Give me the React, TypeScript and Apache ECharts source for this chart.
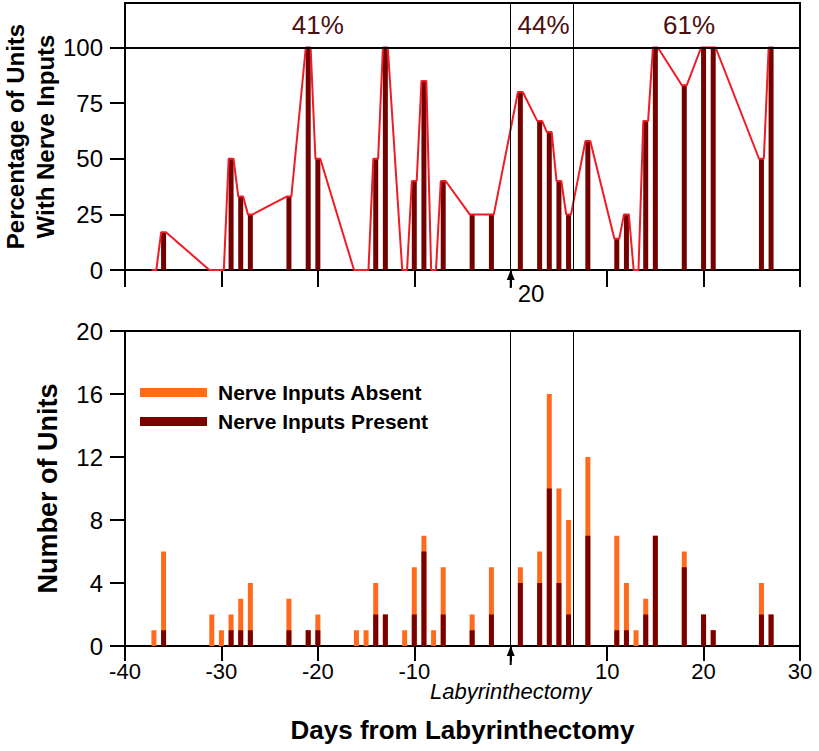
import React, { useEffect, useRef } from "react";
import * as echarts from "echarts";

// Days from labyrinthectomy for each recorded day
const days = [-37, -36, -31, -30, -29, -28, -27, -23, -21, -20, -16, -15, -14, -13, -11, -10, -9, -8, -7, -4, -2, 1, 3, 4, 5, 6, 8, 11, 12, 13, 14, 15, 18, 20, 21, 26, 27];
// Bottom panel: numbers of units
const present = [0, 1, 0, 0, 1, 1, 1, 1, 1, 1, 0, 0, 2, 2, 0, 2, 6, 0, 2, 1, 2, 4, 4, 10, 4, 2, 7, 1, 1, 0, 2, 7, 5, 2, 1, 2, 2];
const absent = [1, 5, 2, 1, 1, 2, 3, 2, 0, 1, 1, 1, 2, 0, 1, 3, 1, 1, 3, 1, 3, 1, 2, 6, 6, 6, 5, 6, 3, 1, 1, 0, 1, 0, 0, 2, 0];
// Top panel: percentage of units with nerve inputs (as drawn)
const percent = [0, 17, 0, 0, 50, 33, 25, 33, 100, 50, 0, 0, 50, 100, 0, 40, 85, 0, 40, 25, 25, 80, 67, 62, 40, 25, 58, 14, 25, 0, 67, 100, 83, 100, 100, 50, 100];
// Period summaries
const periodLabels = ["41%", "44%", "61%"];
const periodCenters = [-20, 3.4, 18.5];
const periodDividers = [0, 6.5];
const topTicks = [0, 25, 50, 75, 100];

const FONT = "'Liberation Sans', Arial, Helvetica, sans-serif";
const HALF = 0.25; // half width of the flat top of each step in the line

export default function App() {
  const ref = useRef<HTMLDivElement>(null);
  useEffect(() => {
    document.body.style.margin = "0";
    if (!ref.current) return;
    const chart = echarts.init(ref.current, null, { renderer: "svg" });

    const linePts: number[][] = [];
    days.forEach((d, i) => {
      linePts.push([d - HALF, percent[i]]);
      linePts.push([d + HALF, percent[i]]);
    });

    const axisLine = { show: true, onZero: false, lineStyle: { color: "#000", width: 2 } };
    const xCommon = {
      type: "value",
      min: -40,
      max: 30,
      interval: 10,
      axisLine,
      splitLine: { show: false },
    };

    const option: any = {
      animation: false,
      backgroundColor: "#fff",
      grid: [
        { left: 125, top: 3, width: 675, height: 267, show: true, borderColor: "#000", borderWidth: 2, backgroundColor: "transparent", outerBoundsMode: "none", containLabel: false },
        { left: 125, top: 331, width: 675, height: 315, show: true, borderColor: "#000", borderWidth: 2, backgroundColor: "transparent", outerBoundsMode: "none", containLabel: false },
      ],
      xAxis: [
        {
          ...xCommon,
          gridIndex: 0,
          axisTick: { show: true, inside: false, length: 17, lineStyle: { color: "#000", width: 2 } },
          axisLabel: { show: false },
        },
        {
          ...xCommon,
          gridIndex: 1,
          axisTick: { show: true, inside: false, length: 15, lineStyle: { color: "#000", width: 2 } },
          axisLabel: {
            show: true,
            margin: 14,
            fontSize: 22,
            color: "#000",
            fontFamily: FONT,
            formatter: (v: number) => (v === 0 ? "" : String(v)),
          },
          name: "Days from Labyrinthectomy",
          nameLocation: "middle",
          nameGap: 71,
          nameMoveOverlap: false,
          nameTextStyle: { fontSize: 26, fontWeight: "bold", color: "#000", fontFamily: FONT },
        },
      ],
      yAxis: [
        {
          type: "value",
          gridIndex: 0,
          min: 0,
          max: 120,
          axisLine,
          splitLine: { show: false },
          axisTick: { show: true, inside: false, length: 15, customValues: topTicks, lineStyle: { color: "#000", width: 2 } },
          axisLabel: { show: true, margin: 22, customValues: topTicks, fontSize: 24, color: "#000", fontFamily: FONT },
          name: "Percentage of Units\nWith Nerve Inputs",
          nameLocation: "middle",
          nameRotate: 90,
          nameGap: 65,
          nameMoveOverlap: false,
          nameTextStyle: { fontSize: 24, fontWeight: "bold", color: "#000", fontFamily: FONT, lineHeight: 30 },
        },
        {
          type: "value",
          gridIndex: 1,
          min: 0,
          max: 20,
          interval: 4,
          axisLine,
          splitLine: { show: false },
          axisTick: { show: true, inside: false, length: 15, lineStyle: { color: "#000", width: 2 } },
          axisLabel: { show: true, margin: 22, fontSize: 24, color: "#000", fontFamily: FONT },
          name: "Number of Units",
          nameLocation: "middle",
          nameRotate: 90,
          nameGap: 64,
          nameMoveOverlap: false,
          nameTextStyle: { fontSize: 27, fontWeight: "bold", color: "#000", fontFamily: FONT },
        },
      ],
      legend: {
        data: ["Nerve Inputs Absent", "Nerve Inputs Present"],
        orient: "vertical",
        left: 135,
        top: 377,
        icon: "rect",
        itemWidth: 67,
        itemHeight: 9,
        itemGap: 8,
        textStyle: { fontSize: 21, fontWeight: "bold", color: "#000", fontFamily: FONT, lineHeight: 19, padding: [0, 0, 0, 6] },
        selectedMode: false,
      },
      series: [
        {
          type: "bar",
          name: "pct-bars",
          xAxisIndex: 0,
          yAxisIndex: 0,
          barWidth: 5,
          itemStyle: { color: "#740000" },
          data: days.map((d, i) => [d, percent[i]]),
          markLine: {
            silent: true,
            symbol: "none",
            label: { show: false },
            data: [
              { yAxis: 100, lineStyle: { color: "#000", width: 2, type: "solid" } },
              ...periodDividers.map((v) => ({ xAxis: v, lineStyle: { color: "#000", width: 1, type: "solid" } })),
            ],
          },
        },
        {
          type: "line",
          name: "pct-line",
          xAxisIndex: 0,
          yAxisIndex: 0,
          showSymbol: false,
          symbol: "none",
          lineStyle: { color: "#ee1c25", width: 2 },
          data: linePts,
          z: 3,
        },
        {
          type: "scatter",
          name: "period-labels",
          xAxisIndex: 0,
          yAxisIndex: 0,
          symbolSize: 0,
          itemStyle: { opacity: 1 },
          data: periodLabels.map((l, i) => ({ name: l, value: [periodCenters[i], 110] })),
          label: { show: true, position: "inside", formatter: "{b}", fontSize: 26, color: "#4a1010", opacity: 1, fontFamily: FONT },
        },
        {
          type: "bar",
          name: "Nerve Inputs Absent",
          xAxisIndex: 1,
          yAxisIndex: 1,
          barWidth: 5,
          barGap: "-100%",
          itemStyle: { color: "#ff6a1c" },
          data: days.map((d, i) => [d, present[i] + absent[i]]),
          markLine: {
            silent: true,
            symbol: "none",
            label: { show: false },
            data: periodDividers.map((v) => ({ xAxis: v, lineStyle: { color: "#000", width: 1, type: "solid" } })),
          },
        },
        {
          type: "bar",
          name: "Nerve Inputs Present",
          xAxisIndex: 1,
          yAxisIndex: 1,
          barWidth: 5,
          barGap: "-100%",
          itemStyle: { color: "#7a0000" },
          data: days.map((d, i) => [d, present[i]]),
        },
      ],
    };
    chart.setOption(option);

    const a0 = chart.convertToPixel({ xAxisIndex: 0, yAxisIndex: 0 }, [0, 0]) as number[];
    const a1 = chart.convertToPixel({ xAxisIndex: 1, yAxisIndex: 1 }, [0, 0]) as number[];
    const arrow = (x: number, y: number, len: number) => [
      { type: "line", shape: { x1: x, y1: y + 6, x2: x, y2: y + len }, style: { stroke: "#000", lineWidth: 2 } },
      { type: "polygon", shape: { points: [[x, y], [x - 4, y + 10], [x + 4, y + 10]] }, style: { fill: "#000" } },
    ];
    chart.setOption({
      graphic: [
        ...arrow(a0[0], a0[1], 18),
        ...arrow(a1[0], a1[1], 19),
        {
          type: "text",
          x: a0[0] + 7,
          y: a0[1] + 23,
          style: { text: "20", fontSize: 24, fill: "#000", fontFamily: FONT, align: "left", verticalAlign: "middle" },
        },
        {
          type: "text",
          x: a1[0],
          y: a1[1] + 45,
          style: { text: "Labyrinthectomy", fontSize: 22, fontStyle: "italic", fill: "#000", fontFamily: FONT, align: "center", verticalAlign: "middle" },
        },
      ],
    });

    return () => chart.dispose();
  }, []);
  return <div ref={ref} style={{ width: 819, height: 751 }} />;
}
